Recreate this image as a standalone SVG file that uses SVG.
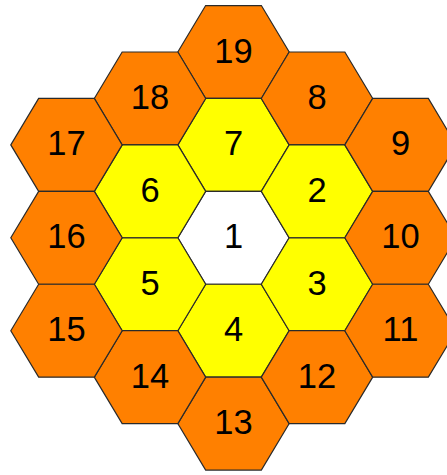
<svg xmlns="http://www.w3.org/2000/svg" xmlns:xlink="http://www.w3.org/1999/xlink" width="447" height="475" viewBox="0 0 447 475">
<style>
.o{fill:#FF8000}
.y{fill:#FFFF00}
.w{fill:#FFFFFF}
.hx{stroke:#2a2a2a;stroke-width:1.2;stroke-linejoin:miter}
text{font-family:"Liberation Sans",Arial,Helvetica,sans-serif;font-size:34.5px;fill:#000;text-anchor:middle}
</style>
<defs>
<polygon id="hex" class="hx" points="-55.7,0 -27.85,-46.45 27.85,-46.45 55.7,0 27.85,46.45 -27.85,46.45"/>
</defs>
<rect width="447" height="475" fill="#fff"/>
<g id="connectors"></g>
<g id="n19" transform="translate(233.5,52)"><use href="#hex" class="o"/><text y="10.5">19</text></g>
<g id="n7" transform="translate(233.5,144.9)"><use href="#hex" class="y"/><text y="10.5">7</text></g>
<g id="n1" transform="translate(233.5,237.8)"><use href="#hex" class="w"/><text y="10.5">1</text></g>
<g id="n4" transform="translate(233.5,330.7)"><use href="#hex" class="y"/><text y="10.5">4</text></g>
<g id="n13" transform="translate(233.5,423.6)"><use href="#hex" class="o"/><text y="10.5">13</text></g>
<g id="n8" transform="translate(317,98.45)"><use href="#hex" class="o"/><text y="10.5">8</text></g>
<g id="n2" transform="translate(317,191.35)"><use href="#hex" class="y"/><text y="10.5">2</text></g>
<g id="n3" transform="translate(317,284.25)"><use href="#hex" class="y"/><text y="10.5">3</text></g>
<g id="n12" transform="translate(317,377.15)"><use href="#hex" class="o"/><text y="10.5">12</text></g>
<g id="n18" transform="translate(150,98.45)"><use href="#hex" class="o"/><text y="10.5">18</text></g>
<g id="n6" transform="translate(150,191.35)"><use href="#hex" class="y"/><text y="10.5">6</text></g>
<g id="n5" transform="translate(150,284.25)"><use href="#hex" class="y"/><text y="10.5">5</text></g>
<g id="n14" transform="translate(150,377.15)"><use href="#hex" class="o"/><text y="10.5">14</text></g>
<g id="n9" transform="translate(400.5,144.9)"><use href="#hex" class="o"/><text y="10.5">9</text></g>
<g id="n10" transform="translate(400.5,237.8)"><use href="#hex" class="o"/><text y="10.5">10</text></g>
<g id="n11" transform="translate(400.5,330.7)"><use href="#hex" class="o"/><text y="10.5">11</text></g>
<g id="n17" transform="translate(66.5,144.9)"><use href="#hex" class="o"/><text y="10.5">17</text></g>
<g id="n16" transform="translate(66.5,237.8)"><use href="#hex" class="o"/><text y="10.5">16</text></g>
<g id="n15" transform="translate(66.5,330.7)"><use href="#hex" class="o"/><text y="10.5">15</text></g>
</svg>
